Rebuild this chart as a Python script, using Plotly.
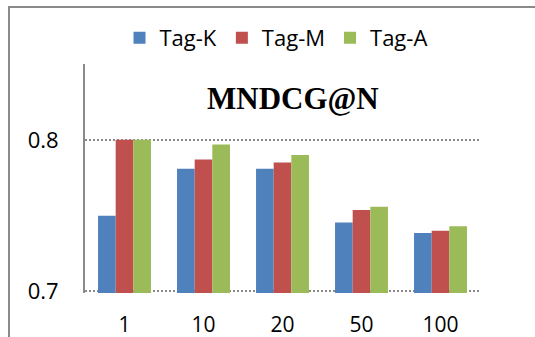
import plotly.graph_objects as go

categories = ["1", "10", "20", "50", "100"]
tag_k = [0.750, 0.781, 0.781, 0.7455, 0.7385]
tag_m = [0.800, 0.787, 0.785, 0.7538, 0.740]
tag_a = [0.800, 0.797, 0.790, 0.7558, 0.743]
series_names = ["Tag-K", "Tag-M", "Tag-A"]
colors = ["#4F81BD", "#C0504D", "#9BBB59"]
y_ticks = [0.7, 0.8]
y_tick_text = ["0.7", "0.8"]
title_text = "MNDCG@N"

W, H = 535, 337
L, R, T, B = 85, 55, 64, 44
pw, ph = W - L - R, H - T - B

def px_x(x):
    return (x - L) / pw

def px_y(y):
    return (H - B - y) / ph

fig = go.Figure()
for name, vals, c in zip(series_names, [tag_k, tag_m, tag_a], colors):
    fig.add_trace(go.Bar(x=categories, y=vals, name=name, marker=dict(color=c, line=dict(width=0))))

font_main = "Open Sans, Noto Sans, sans-serif"

fig.update_layout(
    width=W, height=H,
    margin=dict(l=L, r=R, t=T, b=B, autoexpand=False),
    paper_bgcolor="white", plot_bgcolor="white",
    barmode="group", bargap=0.33, bargroupgap=0,
    font=dict(family=font_main, size=22, color="black"),
    showlegend=True,
    legend=dict(orientation="h", x=px_x(276), xanchor="center", y=px_y(38), yanchor="middle",
                font=dict(size=22, family=font_main), bgcolor="rgba(0,0,0,0)",
                traceorder="normal"),
    xaxis=dict(type="category", showline=False, showgrid=False, ticks="", zeroline=False,
               tickfont=dict(size=21), ticklabelstandoff=17, automargin=False),
    yaxis=dict(range=[0.699, 0.85], tickvals=y_ticks, ticktext=y_tick_text, showline=True,
               linecolor="#8a8a8a", linewidth=2, showgrid=True, gridcolor="#8a8a8a",
               griddash="2px,2px", gridwidth=2, ticks="", zeroline=False,
               tickfont=dict(size=22), ticklabelstandoff=20, automargin=False),
    annotations=[dict(text="<b>" + title_text + "</b>", xref="paper", yref="paper",
                      x=px_x(293), y=px_y(98), xanchor="center", yanchor="middle",
                      showarrow=False, font=dict(family="Liberation Serif, Times New Roman, serif",
                                                 size=31, color="black"))],
    shapes=[dict(type="rect", xref="paper", yref="paper", x0=px_x(9), x1=px_x(545),
                 y0=px_y(7), y1=px_y(350), line=dict(color="#8a8a8a", width=2),
                 fillcolor="rgba(0,0,0,0)", layer="below")],
)

fig.write_html("out.html")
